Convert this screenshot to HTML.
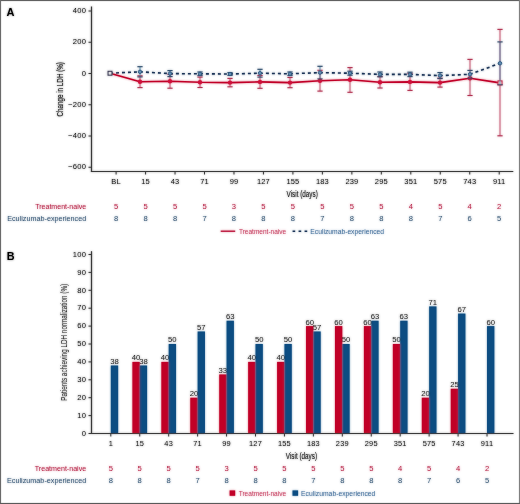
<!DOCTYPE html>
<html><head><meta charset="utf-8"><style>
html,body{margin:0;padding:0;background:#fff;}
body{width:520px;height:504px;overflow:hidden;}
svg{display:block;font-family:"Liberation Sans", sans-serif;}
#w{width:520px;height:504px;will-change:transform;}
</style></head><body>
<div id="w"><svg width="520" height="504" viewBox="0 0 520 504">
<defs><filter id="sf" x="0" y="0" width="520" height="504" filterUnits="userSpaceOnUse"><feGaussianBlur stdDeviation="0.8"/></filter></defs>
<rect x="0" y="0" width="520" height="504" fill="#fff"/>
<g>
<text x="6.60" y="15.80" font-size="11" text-anchor="start" fill="#000" font-weight="bold">A</text>
<line x1="91.50" y1="6.50" x2="91.50" y2="172.00" stroke="#3a3a3a" stroke-width="1.2"/>
<line x1="90.90" y1="171.50" x2="513.30" y2="171.50" stroke="#3a3a3a" stroke-width="1.2"/>
<line x1="88.50" y1="11.00" x2="91.50" y2="11.00" stroke="#3a3a3a" stroke-width="1"/>
<text x="86.20" y="13.20" font-size="7.6" text-anchor="end" fill="#1a1a1a" font-weight="normal" letter-spacing="0.25">400</text>
<line x1="88.50" y1="42.25" x2="91.50" y2="42.25" stroke="#3a3a3a" stroke-width="1"/>
<text x="86.20" y="44.45" font-size="7.6" text-anchor="end" fill="#1a1a1a" font-weight="normal" letter-spacing="0.25">200</text>
<line x1="88.50" y1="73.50" x2="91.50" y2="73.50" stroke="#3a3a3a" stroke-width="1"/>
<text x="86.20" y="75.70" font-size="7.6" text-anchor="end" fill="#1a1a1a" font-weight="normal" letter-spacing="0.25">0</text>
<line x1="88.50" y1="104.75" x2="91.50" y2="104.75" stroke="#3a3a3a" stroke-width="1"/>
<text x="86.20" y="106.95" font-size="7.6" text-anchor="end" fill="#1a1a1a" font-weight="normal" letter-spacing="0.25">−200</text>
<line x1="88.50" y1="136.00" x2="91.50" y2="136.00" stroke="#3a3a3a" stroke-width="1"/>
<text x="86.20" y="138.20" font-size="7.6" text-anchor="end" fill="#1a1a1a" font-weight="normal" letter-spacing="0.25">−400</text>
<line x1="88.50" y1="167.25" x2="91.50" y2="167.25" stroke="#3a3a3a" stroke-width="1"/>
<text x="86.20" y="169.45" font-size="7.6" text-anchor="end" fill="#1a1a1a" font-weight="normal" letter-spacing="0.25">−600</text>
<text transform="translate(62.8,89.3) rotate(-90)" font-size="9.4" text-anchor="middle" fill="#1a1a1a" stroke="#1a1a1a" stroke-width="0.12" textLength="54.5" lengthAdjust="spacingAndGlyphs">Change in LDH (%)</text>
<line x1="116.10" y1="171.50" x2="116.10" y2="174.50" stroke="#3a3a3a" stroke-width="1"/>
<text x="116.10" y="184.00" font-size="7.5" text-anchor="middle" fill="#1a1a1a" font-weight="normal" letter-spacing="0.15">BL</text>
<line x1="145.57" y1="171.50" x2="145.57" y2="174.50" stroke="#3a3a3a" stroke-width="1"/>
<text x="145.57" y="184.00" font-size="7.5" text-anchor="middle" fill="#1a1a1a" font-weight="normal" letter-spacing="0.15">15</text>
<line x1="175.04" y1="171.50" x2="175.04" y2="174.50" stroke="#3a3a3a" stroke-width="1"/>
<text x="175.04" y="184.00" font-size="7.5" text-anchor="middle" fill="#1a1a1a" font-weight="normal" letter-spacing="0.15">43</text>
<line x1="204.51" y1="171.50" x2="204.51" y2="174.50" stroke="#3a3a3a" stroke-width="1"/>
<text x="204.51" y="184.00" font-size="7.5" text-anchor="middle" fill="#1a1a1a" font-weight="normal" letter-spacing="0.15">71</text>
<line x1="233.98" y1="171.50" x2="233.98" y2="174.50" stroke="#3a3a3a" stroke-width="1"/>
<text x="233.98" y="184.00" font-size="7.5" text-anchor="middle" fill="#1a1a1a" font-weight="normal" letter-spacing="0.15">99</text>
<line x1="263.45" y1="171.50" x2="263.45" y2="174.50" stroke="#3a3a3a" stroke-width="1"/>
<text x="263.45" y="184.00" font-size="7.5" text-anchor="middle" fill="#1a1a1a" font-weight="normal" letter-spacing="0.15">127</text>
<line x1="292.92" y1="171.50" x2="292.92" y2="174.50" stroke="#3a3a3a" stroke-width="1"/>
<text x="292.92" y="184.00" font-size="7.5" text-anchor="middle" fill="#1a1a1a" font-weight="normal" letter-spacing="0.15">155</text>
<line x1="322.39" y1="171.50" x2="322.39" y2="174.50" stroke="#3a3a3a" stroke-width="1"/>
<text x="322.39" y="184.00" font-size="7.5" text-anchor="middle" fill="#1a1a1a" font-weight="normal" letter-spacing="0.15">183</text>
<line x1="351.86" y1="171.50" x2="351.86" y2="174.50" stroke="#3a3a3a" stroke-width="1"/>
<text x="351.86" y="184.00" font-size="7.5" text-anchor="middle" fill="#1a1a1a" font-weight="normal" letter-spacing="0.15">239</text>
<line x1="381.33" y1="171.50" x2="381.33" y2="174.50" stroke="#3a3a3a" stroke-width="1"/>
<text x="381.33" y="184.00" font-size="7.5" text-anchor="middle" fill="#1a1a1a" font-weight="normal" letter-spacing="0.15">295</text>
<line x1="410.80" y1="171.50" x2="410.80" y2="174.50" stroke="#3a3a3a" stroke-width="1"/>
<text x="410.80" y="184.00" font-size="7.5" text-anchor="middle" fill="#1a1a1a" font-weight="normal" letter-spacing="0.15">351</text>
<line x1="440.27" y1="171.50" x2="440.27" y2="174.50" stroke="#3a3a3a" stroke-width="1"/>
<text x="440.27" y="184.00" font-size="7.5" text-anchor="middle" fill="#1a1a1a" font-weight="normal" letter-spacing="0.15">575</text>
<line x1="469.74" y1="171.50" x2="469.74" y2="174.50" stroke="#3a3a3a" stroke-width="1"/>
<text x="469.74" y="184.00" font-size="7.5" text-anchor="middle" fill="#1a1a1a" font-weight="normal" letter-spacing="0.15">743</text>
<line x1="499.21" y1="171.50" x2="499.21" y2="174.50" stroke="#3a3a3a" stroke-width="1"/>
<text x="499.21" y="184.00" font-size="7.5" text-anchor="middle" fill="#1a1a1a" font-weight="normal" letter-spacing="0.15">911</text>
<text x="302.20" y="196.60" font-size="8.2" text-anchor="middle" fill="#1a1a1a" font-weight="normal" stroke="#1a1a1a" stroke-width="0.05" textLength="31.2" lengthAdjust="spacingAndGlyphs">Visit (days)</text>
<text x="86.20" y="208.70" font-size="7.8" text-anchor="end" fill="#b8284a" font-weight="normal" textLength="51.0" lengthAdjust="spacingAndGlyphs">Treatment-naive</text>
<text x="86.20" y="220.50" font-size="7.8" text-anchor="end" fill="#3a5a78" font-weight="normal" textLength="79.0" lengthAdjust="spacingAndGlyphs">Eculizumab-experienced</text>
<text x="116.10" y="208.70" font-size="7.6" text-anchor="middle" fill="#b8284a" font-weight="normal">5</text>
<text x="116.10" y="220.50" font-size="7.6" text-anchor="middle" fill="#3a5a78" font-weight="normal">8</text>
<text x="145.57" y="208.70" font-size="7.6" text-anchor="middle" fill="#b8284a" font-weight="normal">5</text>
<text x="145.57" y="220.50" font-size="7.6" text-anchor="middle" fill="#3a5a78" font-weight="normal">8</text>
<text x="175.04" y="208.70" font-size="7.6" text-anchor="middle" fill="#b8284a" font-weight="normal">5</text>
<text x="175.04" y="220.50" font-size="7.6" text-anchor="middle" fill="#3a5a78" font-weight="normal">8</text>
<text x="204.51" y="208.70" font-size="7.6" text-anchor="middle" fill="#b8284a" font-weight="normal">5</text>
<text x="204.51" y="220.50" font-size="7.6" text-anchor="middle" fill="#3a5a78" font-weight="normal">7</text>
<text x="233.98" y="208.70" font-size="7.6" text-anchor="middle" fill="#b8284a" font-weight="normal">3</text>
<text x="233.98" y="220.50" font-size="7.6" text-anchor="middle" fill="#3a5a78" font-weight="normal">8</text>
<text x="263.45" y="208.70" font-size="7.6" text-anchor="middle" fill="#b8284a" font-weight="normal">5</text>
<text x="263.45" y="220.50" font-size="7.6" text-anchor="middle" fill="#3a5a78" font-weight="normal">8</text>
<text x="292.92" y="208.70" font-size="7.6" text-anchor="middle" fill="#b8284a" font-weight="normal">5</text>
<text x="292.92" y="220.50" font-size="7.6" text-anchor="middle" fill="#3a5a78" font-weight="normal">8</text>
<text x="322.39" y="208.70" font-size="7.6" text-anchor="middle" fill="#b8284a" font-weight="normal">5</text>
<text x="322.39" y="220.50" font-size="7.6" text-anchor="middle" fill="#3a5a78" font-weight="normal">7</text>
<text x="351.86" y="208.70" font-size="7.6" text-anchor="middle" fill="#b8284a" font-weight="normal">5</text>
<text x="351.86" y="220.50" font-size="7.6" text-anchor="middle" fill="#3a5a78" font-weight="normal">8</text>
<text x="381.33" y="208.70" font-size="7.6" text-anchor="middle" fill="#b8284a" font-weight="normal">5</text>
<text x="381.33" y="220.50" font-size="7.6" text-anchor="middle" fill="#3a5a78" font-weight="normal">8</text>
<text x="410.80" y="208.70" font-size="7.6" text-anchor="middle" fill="#b8284a" font-weight="normal">4</text>
<text x="410.80" y="220.50" font-size="7.6" text-anchor="middle" fill="#3a5a78" font-weight="normal">8</text>
<text x="440.27" y="208.70" font-size="7.6" text-anchor="middle" fill="#b8284a" font-weight="normal">5</text>
<text x="440.27" y="220.50" font-size="7.6" text-anchor="middle" fill="#3a5a78" font-weight="normal">7</text>
<text x="469.74" y="208.70" font-size="7.6" text-anchor="middle" fill="#b8284a" font-weight="normal">4</text>
<text x="469.74" y="220.50" font-size="7.6" text-anchor="middle" fill="#3a5a78" font-weight="normal">6</text>
<text x="499.21" y="208.70" font-size="7.6" text-anchor="middle" fill="#b8284a" font-weight="normal">2</text>
<text x="499.21" y="220.50" font-size="7.6" text-anchor="middle" fill="#3a5a78" font-weight="normal">5</text>
<line x1="220.70" y1="231.20" x2="235.20" y2="231.20" stroke="#b80a30" stroke-width="1.3"/>
<text x="238.90" y="233.60" font-size="6.6" text-anchor="start" fill="#c84464" font-weight="normal" textLength="47.3" lengthAdjust="spacingAndGlyphs">Treatment-naive</text>
<line x1="292.60" y1="231.20" x2="307.40" y2="231.20" stroke="#1c3558" stroke-width="1.4" stroke-dasharray="2.6,3.4"/>
<text x="310.30" y="233.60" font-size="6.7" text-anchor="start" fill="#44709c" font-weight="normal" textLength="73.8" lengthAdjust="spacingAndGlyphs">Eculizumab-experienced</text>
<line x1="140.00" y1="75.80" x2="140.00" y2="87.60" stroke="#c45a74" stroke-width="1"/>
<line x1="137.40" y1="75.80" x2="142.60" y2="75.80" stroke="#b03050" stroke-width="1.1"/>
<line x1="137.40" y1="87.60" x2="142.60" y2="87.60" stroke="#b03050" stroke-width="1.1"/>
<line x1="170.00" y1="74.40" x2="170.00" y2="88.20" stroke="#c45a74" stroke-width="1"/>
<line x1="167.40" y1="74.40" x2="172.60" y2="74.40" stroke="#b03050" stroke-width="1.1"/>
<line x1="167.40" y1="88.20" x2="172.60" y2="88.20" stroke="#b03050" stroke-width="1.1"/>
<line x1="200.00" y1="77.10" x2="200.00" y2="87.50" stroke="#c45a74" stroke-width="1"/>
<line x1="197.40" y1="77.10" x2="202.60" y2="77.10" stroke="#b03050" stroke-width="1.1"/>
<line x1="197.40" y1="87.50" x2="202.60" y2="87.50" stroke="#b03050" stroke-width="1.1"/>
<line x1="230.00" y1="78.40" x2="230.00" y2="86.80" stroke="#c45a74" stroke-width="1"/>
<line x1="227.40" y1="78.40" x2="232.60" y2="78.40" stroke="#b03050" stroke-width="1.1"/>
<line x1="227.40" y1="86.80" x2="232.60" y2="86.80" stroke="#b03050" stroke-width="1.1"/>
<line x1="260.00" y1="75.50" x2="260.00" y2="88.30" stroke="#c45a74" stroke-width="1"/>
<line x1="257.40" y1="75.50" x2="262.60" y2="75.50" stroke="#b03050" stroke-width="1.1"/>
<line x1="257.40" y1="88.30" x2="262.60" y2="88.30" stroke="#b03050" stroke-width="1.1"/>
<line x1="290.00" y1="77.50" x2="290.00" y2="87.70" stroke="#c45a74" stroke-width="1"/>
<line x1="287.40" y1="77.50" x2="292.60" y2="77.50" stroke="#b03050" stroke-width="1.1"/>
<line x1="287.40" y1="87.70" x2="292.60" y2="87.70" stroke="#b03050" stroke-width="1.1"/>
<line x1="320.00" y1="70.30" x2="320.00" y2="91.10" stroke="#c45a74" stroke-width="1"/>
<line x1="317.40" y1="70.30" x2="322.60" y2="70.30" stroke="#b03050" stroke-width="1.1"/>
<line x1="317.40" y1="91.10" x2="322.60" y2="91.10" stroke="#b03050" stroke-width="1.1"/>
<line x1="350.00" y1="67.60" x2="350.00" y2="92.30" stroke="#c45a74" stroke-width="1"/>
<line x1="347.40" y1="67.60" x2="352.60" y2="67.60" stroke="#b03050" stroke-width="1.1"/>
<line x1="347.40" y1="92.30" x2="352.60" y2="92.30" stroke="#b03050" stroke-width="1.1"/>
<line x1="380.00" y1="76.60" x2="380.00" y2="88.00" stroke="#c45a74" stroke-width="1"/>
<line x1="377.40" y1="76.60" x2="382.60" y2="76.60" stroke="#b03050" stroke-width="1.1"/>
<line x1="377.40" y1="88.00" x2="382.60" y2="88.00" stroke="#b03050" stroke-width="1.1"/>
<line x1="410.00" y1="73.40" x2="410.00" y2="90.40" stroke="#c45a74" stroke-width="1"/>
<line x1="407.40" y1="73.40" x2="412.60" y2="73.40" stroke="#b03050" stroke-width="1.1"/>
<line x1="407.40" y1="90.40" x2="412.60" y2="90.40" stroke="#b03050" stroke-width="1.1"/>
<line x1="440.00" y1="78.10" x2="440.00" y2="87.10" stroke="#c45a74" stroke-width="1"/>
<line x1="437.40" y1="78.10" x2="442.60" y2="78.10" stroke="#b03050" stroke-width="1.1"/>
<line x1="437.40" y1="87.10" x2="442.60" y2="87.10" stroke="#b03050" stroke-width="1.1"/>
<line x1="470.00" y1="59.40" x2="470.00" y2="95.50" stroke="#c45a74" stroke-width="1"/>
<line x1="467.40" y1="59.40" x2="472.60" y2="59.40" stroke="#b03050" stroke-width="1.1"/>
<line x1="467.40" y1="95.50" x2="472.60" y2="95.50" stroke="#b03050" stroke-width="1.1"/>
<line x1="500.00" y1="29.40" x2="500.00" y2="135.80" stroke="#c45a74" stroke-width="1"/>
<line x1="497.40" y1="29.40" x2="502.60" y2="29.40" stroke="#b03050" stroke-width="1.1"/>
<line x1="497.40" y1="135.80" x2="502.60" y2="135.80" stroke="#b03050" stroke-width="1.1"/>
<polyline points="110.0,73.25 140.0,81.70 170.0,81.30 200.0,82.30 230.0,82.60 260.0,81.90 290.0,82.60 320.0,80.70 350.0,79.80 380.0,82.30 410.0,81.90 440.0,82.60 470.0,78.30 500.0,82.90" fill="none" stroke="#c10028" stroke-width="1.6" stroke-linejoin="round"/>
<circle cx="140" cy="81.7" r="2.2" fill="#d0103a"/>
<circle cx="170" cy="81.3" r="2.2" fill="#d0103a"/>
<circle cx="200" cy="82.3" r="2.2" fill="#d0103a"/>
<circle cx="230" cy="82.6" r="2.2" fill="#d0103a"/>
<circle cx="260" cy="81.9" r="2.2" fill="#d0103a"/>
<circle cx="290" cy="82.6" r="2.2" fill="#d0103a"/>
<circle cx="320" cy="80.7" r="2.2" fill="#d0103a"/>
<circle cx="350" cy="79.8" r="2.2" fill="#d0103a"/>
<circle cx="380" cy="82.3" r="2.2" fill="#d0103a"/>
<circle cx="410" cy="81.9" r="2.2" fill="#d0103a"/>
<circle cx="440" cy="82.6" r="2.2" fill="#d0103a"/>
<circle cx="470" cy="78.3" r="2.2" fill="#d0103a"/>
<rect x="498" y="80.9" width="4" height="4" fill="#fff" stroke="#c10028" stroke-width="1"/>
<line x1="140.00" y1="66.70" x2="140.00" y2="76.90" stroke="#5a8cab" stroke-width="0.9"/>
<line x1="137.40" y1="66.70" x2="142.60" y2="66.70" stroke="#2a4868" stroke-width="1.1"/>
<line x1="137.40" y1="76.90" x2="142.60" y2="76.90" stroke="#2a4868" stroke-width="1.1"/>
<line x1="170.00" y1="70.60" x2="170.00" y2="76.60" stroke="#5a8cab" stroke-width="0.9"/>
<line x1="167.40" y1="70.60" x2="172.60" y2="70.60" stroke="#2a4868" stroke-width="1.1"/>
<line x1="167.40" y1="76.60" x2="172.60" y2="76.60" stroke="#2a4868" stroke-width="1.1"/>
<line x1="200.00" y1="72.00" x2="200.00" y2="75.60" stroke="#5a8cab" stroke-width="0.9"/>
<line x1="197.40" y1="72.00" x2="202.60" y2="72.00" stroke="#2a4868" stroke-width="1.1"/>
<line x1="197.40" y1="75.60" x2="202.60" y2="75.60" stroke="#2a4868" stroke-width="1.1"/>
<line x1="230.00" y1="72.60" x2="230.00" y2="75.40" stroke="#5a8cab" stroke-width="0.9"/>
<line x1="227.40" y1="72.60" x2="232.60" y2="72.60" stroke="#2a4868" stroke-width="1.1"/>
<line x1="227.40" y1="75.40" x2="232.60" y2="75.40" stroke="#2a4868" stroke-width="1.1"/>
<line x1="260.00" y1="69.30" x2="260.00" y2="77.10" stroke="#5a8cab" stroke-width="0.9"/>
<line x1="257.40" y1="69.30" x2="262.60" y2="69.30" stroke="#2a4868" stroke-width="1.1"/>
<line x1="257.40" y1="77.10" x2="262.60" y2="77.10" stroke="#2a4868" stroke-width="1.1"/>
<line x1="290.00" y1="72.00" x2="290.00" y2="75.60" stroke="#5a8cab" stroke-width="0.9"/>
<line x1="287.40" y1="72.00" x2="292.60" y2="72.00" stroke="#2a4868" stroke-width="1.1"/>
<line x1="287.40" y1="75.60" x2="292.60" y2="75.60" stroke="#2a4868" stroke-width="1.1"/>
<line x1="320.00" y1="66.30" x2="320.00" y2="78.90" stroke="#5a8cab" stroke-width="0.9"/>
<line x1="317.40" y1="66.30" x2="322.60" y2="66.30" stroke="#2a4868" stroke-width="1.1"/>
<line x1="317.40" y1="78.90" x2="322.60" y2="78.90" stroke="#2a4868" stroke-width="1.1"/>
<line x1="350.00" y1="71.20" x2="350.00" y2="75.20" stroke="#5a8cab" stroke-width="0.9"/>
<line x1="347.40" y1="71.20" x2="352.60" y2="71.20" stroke="#2a4868" stroke-width="1.1"/>
<line x1="347.40" y1="75.20" x2="352.60" y2="75.20" stroke="#2a4868" stroke-width="1.1"/>
<line x1="380.00" y1="72.00" x2="380.00" y2="76.80" stroke="#5a8cab" stroke-width="0.9"/>
<line x1="377.40" y1="72.00" x2="382.60" y2="72.00" stroke="#2a4868" stroke-width="1.1"/>
<line x1="377.40" y1="76.80" x2="382.60" y2="76.80" stroke="#2a4868" stroke-width="1.1"/>
<line x1="410.00" y1="72.20" x2="410.00" y2="76.60" stroke="#5a8cab" stroke-width="0.9"/>
<line x1="407.40" y1="72.20" x2="412.60" y2="72.20" stroke="#2a4868" stroke-width="1.1"/>
<line x1="407.40" y1="76.60" x2="412.60" y2="76.60" stroke="#2a4868" stroke-width="1.1"/>
<line x1="440.00" y1="72.60" x2="440.00" y2="78.60" stroke="#5a8cab" stroke-width="0.9"/>
<line x1="437.40" y1="72.60" x2="442.60" y2="72.60" stroke="#2a4868" stroke-width="1.1"/>
<line x1="437.40" y1="78.60" x2="442.60" y2="78.60" stroke="#2a4868" stroke-width="1.1"/>
<line x1="470.00" y1="70.40" x2="470.00" y2="78.20" stroke="#5a8cab" stroke-width="0.9"/>
<line x1="467.40" y1="70.40" x2="472.60" y2="70.40" stroke="#2a4868" stroke-width="1.1"/>
<line x1="467.40" y1="78.20" x2="472.60" y2="78.20" stroke="#2a4868" stroke-width="1.1"/>
<line x1="500.00" y1="41.90" x2="500.00" y2="84.70" stroke="#5a8cab" stroke-width="0.9"/>
<line x1="497.40" y1="41.90" x2="502.60" y2="41.90" stroke="#2a4868" stroke-width="1.1"/>
<line x1="497.40" y1="84.70" x2="502.60" y2="84.70" stroke="#2a4868" stroke-width="1.1"/>
<polyline points="110.0,73.25 140.0,71.80 170.0,73.60 200.0,73.80 230.0,74.00 260.0,73.20 290.0,73.80 320.0,72.60 350.0,73.20 380.0,74.40 410.0,74.40 440.0,75.60 470.0,74.30 500.0,63.30" fill="none" stroke="#1c3558" stroke-width="1.6" stroke-dasharray="3,3"/>
<circle cx="140" cy="71.8" r="1.7" fill="#6f9fc4" stroke="#1f4a72" stroke-width="0.9"/>
<circle cx="170" cy="73.6" r="1.7" fill="#6f9fc4" stroke="#1f4a72" stroke-width="0.9"/>
<circle cx="200" cy="73.8" r="1.7" fill="#6f9fc4" stroke="#1f4a72" stroke-width="0.9"/>
<circle cx="230" cy="74.0" r="1.7" fill="#6f9fc4" stroke="#1f4a72" stroke-width="0.9"/>
<circle cx="260" cy="73.2" r="1.7" fill="#6f9fc4" stroke="#1f4a72" stroke-width="0.9"/>
<circle cx="290" cy="73.8" r="1.7" fill="#6f9fc4" stroke="#1f4a72" stroke-width="0.9"/>
<circle cx="320" cy="72.6" r="1.7" fill="#6f9fc4" stroke="#1f4a72" stroke-width="0.9"/>
<circle cx="350" cy="73.2" r="1.7" fill="#6f9fc4" stroke="#1f4a72" stroke-width="0.9"/>
<circle cx="380" cy="74.4" r="1.7" fill="#6f9fc4" stroke="#1f4a72" stroke-width="0.9"/>
<circle cx="410" cy="74.4" r="1.7" fill="#6f9fc4" stroke="#1f4a72" stroke-width="0.9"/>
<circle cx="440" cy="75.6" r="1.7" fill="#6f9fc4" stroke="#1f4a72" stroke-width="0.9"/>
<circle cx="470" cy="74.3" r="1.7" fill="#6f9fc4" stroke="#1f4a72" stroke-width="0.9"/>
<circle cx="500" cy="63.3" r="1.7" fill="#6f9fc4" stroke="#1f4a72" stroke-width="0.9"/>
<rect x="108.1" y="71.35" width="3.8" height="3.8" fill="#fff" stroke="#2a2a48" stroke-width="1.1"/>
<text x="6.80" y="259.80" font-size="10.8" text-anchor="start" fill="#000" font-weight="bold">B</text>
<line x1="91.50" y1="251.20" x2="91.50" y2="434.00" stroke="#3a3a3a" stroke-width="1.2"/>
<line x1="90.90" y1="433.50" x2="513.30" y2="433.50" stroke="#3a3a3a" stroke-width="1.2"/>
<line x1="88.50" y1="433.50" x2="91.50" y2="433.50" stroke="#3a3a3a" stroke-width="1"/>
<text x="86.20" y="435.70" font-size="7.6" text-anchor="end" fill="#1a1a1a" font-weight="normal" letter-spacing="0.25">0</text>
<line x1="88.50" y1="415.60" x2="91.50" y2="415.60" stroke="#3a3a3a" stroke-width="1"/>
<text x="86.20" y="417.80" font-size="7.6" text-anchor="end" fill="#1a1a1a" font-weight="normal" letter-spacing="0.25">10</text>
<line x1="88.50" y1="397.70" x2="91.50" y2="397.70" stroke="#3a3a3a" stroke-width="1"/>
<text x="86.20" y="399.90" font-size="7.6" text-anchor="end" fill="#1a1a1a" font-weight="normal" letter-spacing="0.25">20</text>
<line x1="88.50" y1="379.80" x2="91.50" y2="379.80" stroke="#3a3a3a" stroke-width="1"/>
<text x="86.20" y="382.00" font-size="7.6" text-anchor="end" fill="#1a1a1a" font-weight="normal" letter-spacing="0.25">30</text>
<line x1="88.50" y1="361.90" x2="91.50" y2="361.90" stroke="#3a3a3a" stroke-width="1"/>
<text x="86.20" y="364.10" font-size="7.6" text-anchor="end" fill="#1a1a1a" font-weight="normal" letter-spacing="0.25">40</text>
<line x1="88.50" y1="344.00" x2="91.50" y2="344.00" stroke="#3a3a3a" stroke-width="1"/>
<text x="86.20" y="346.20" font-size="7.6" text-anchor="end" fill="#1a1a1a" font-weight="normal" letter-spacing="0.25">50</text>
<line x1="88.50" y1="326.10" x2="91.50" y2="326.10" stroke="#3a3a3a" stroke-width="1"/>
<text x="86.20" y="328.30" font-size="7.6" text-anchor="end" fill="#1a1a1a" font-weight="normal" letter-spacing="0.25">60</text>
<line x1="88.50" y1="308.20" x2="91.50" y2="308.20" stroke="#3a3a3a" stroke-width="1"/>
<text x="86.20" y="310.40" font-size="7.6" text-anchor="end" fill="#1a1a1a" font-weight="normal" letter-spacing="0.25">70</text>
<line x1="88.50" y1="290.30" x2="91.50" y2="290.30" stroke="#3a3a3a" stroke-width="1"/>
<text x="86.20" y="292.50" font-size="7.6" text-anchor="end" fill="#1a1a1a" font-weight="normal" letter-spacing="0.25">80</text>
<line x1="88.50" y1="272.40" x2="91.50" y2="272.40" stroke="#3a3a3a" stroke-width="1"/>
<text x="86.20" y="274.60" font-size="7.6" text-anchor="end" fill="#1a1a1a" font-weight="normal" letter-spacing="0.25">90</text>
<line x1="88.50" y1="254.50" x2="91.50" y2="254.50" stroke="#3a3a3a" stroke-width="1"/>
<text x="86.20" y="256.70" font-size="7.6" text-anchor="end" fill="#1a1a1a" font-weight="normal" letter-spacing="0.25">100</text>
<text transform="translate(66.9,342.3) rotate(-90)" font-size="9.4" text-anchor="middle" fill="#2a2a2a" textLength="117" lengthAdjust="spacingAndGlyphs">Patients achieving LDH normalization (%)</text>
<rect x="110.80" y="365.48" width="7.35" height="68.02" fill="#0b4d82"/>
<rect x="132.39" y="361.90" width="7.35" height="71.60" fill="#c10028"/>
<rect x="139.74" y="365.48" width="7.35" height="68.02" fill="#0b4d82"/>
<rect x="161.33" y="361.90" width="7.35" height="71.60" fill="#c10028"/>
<rect x="168.68" y="344.00" width="7.35" height="89.50" fill="#0b4d82"/>
<rect x="190.27" y="397.70" width="7.35" height="35.80" fill="#c10028"/>
<rect x="197.62" y="331.47" width="7.35" height="102.03" fill="#0b4d82"/>
<rect x="219.21" y="374.43" width="7.35" height="59.07" fill="#c10028"/>
<rect x="226.56" y="320.73" width="7.35" height="112.77" fill="#0b4d82"/>
<rect x="248.15" y="361.90" width="7.35" height="71.60" fill="#c10028"/>
<rect x="255.50" y="344.00" width="7.35" height="89.50" fill="#0b4d82"/>
<rect x="277.09" y="361.90" width="7.35" height="71.60" fill="#c10028"/>
<rect x="284.44" y="344.00" width="7.35" height="89.50" fill="#0b4d82"/>
<rect x="306.03" y="326.10" width="7.35" height="107.40" fill="#c10028"/>
<rect x="313.38" y="331.47" width="7.35" height="102.03" fill="#0b4d82"/>
<rect x="334.97" y="326.10" width="7.35" height="107.40" fill="#c10028"/>
<rect x="342.32" y="344.00" width="7.35" height="89.50" fill="#0b4d82"/>
<rect x="363.91" y="326.10" width="7.35" height="107.40" fill="#c10028"/>
<rect x="371.26" y="320.73" width="7.35" height="112.77" fill="#0b4d82"/>
<rect x="392.85" y="344.00" width="7.35" height="89.50" fill="#c10028"/>
<rect x="400.20" y="320.73" width="7.35" height="112.77" fill="#0b4d82"/>
<rect x="421.79" y="397.70" width="7.35" height="35.80" fill="#c10028"/>
<rect x="429.14" y="306.41" width="7.35" height="127.09" fill="#0b4d82"/>
<rect x="450.73" y="388.75" width="7.35" height="44.75" fill="#c10028"/>
<rect x="458.08" y="313.57" width="7.35" height="119.93" fill="#0b4d82"/>
<rect x="487.02" y="326.10" width="7.35" height="107.40" fill="#0b4d82"/>
<text x="114.47" y="363.88" font-size="7.7" text-anchor="middle" fill="#2a2a2a" font-weight="normal">38</text>
<text x="136.06" y="360.30" font-size="7.7" text-anchor="middle" fill="#2a2a2a" font-weight="normal">40</text>
<text x="143.42" y="363.88" font-size="7.7" text-anchor="middle" fill="#2a2a2a" font-weight="normal">38</text>
<text x="165.00" y="360.30" font-size="7.7" text-anchor="middle" fill="#2a2a2a" font-weight="normal">40</text>
<text x="172.36" y="342.40" font-size="7.7" text-anchor="middle" fill="#2a2a2a" font-weight="normal">50</text>
<text x="193.94" y="396.10" font-size="7.7" text-anchor="middle" fill="#2a2a2a" font-weight="normal">20</text>
<text x="201.30" y="329.87" font-size="7.7" text-anchor="middle" fill="#2a2a2a" font-weight="normal">57</text>
<text x="222.88" y="372.83" font-size="7.7" text-anchor="middle" fill="#2a2a2a" font-weight="normal">33</text>
<text x="230.24" y="319.13" font-size="7.7" text-anchor="middle" fill="#2a2a2a" font-weight="normal">63</text>
<text x="251.82" y="360.30" font-size="7.7" text-anchor="middle" fill="#2a2a2a" font-weight="normal">40</text>
<text x="259.18" y="342.40" font-size="7.7" text-anchor="middle" fill="#2a2a2a" font-weight="normal">50</text>
<text x="280.76" y="360.30" font-size="7.7" text-anchor="middle" fill="#2a2a2a" font-weight="normal">40</text>
<text x="288.12" y="342.40" font-size="7.7" text-anchor="middle" fill="#2a2a2a" font-weight="normal">50</text>
<text x="309.70" y="324.50" font-size="7.7" text-anchor="middle" fill="#2a2a2a" font-weight="normal">60</text>
<text x="317.06" y="329.87" font-size="7.7" text-anchor="middle" fill="#2a2a2a" font-weight="normal">57</text>
<text x="338.64" y="324.50" font-size="7.7" text-anchor="middle" fill="#2a2a2a" font-weight="normal">60</text>
<text x="346.00" y="342.40" font-size="7.7" text-anchor="middle" fill="#2a2a2a" font-weight="normal">50</text>
<text x="367.59" y="324.50" font-size="7.7" text-anchor="middle" fill="#2a2a2a" font-weight="normal">60</text>
<text x="374.94" y="319.13" font-size="7.7" text-anchor="middle" fill="#2a2a2a" font-weight="normal">63</text>
<text x="396.53" y="342.40" font-size="7.7" text-anchor="middle" fill="#2a2a2a" font-weight="normal">50</text>
<text x="403.88" y="319.13" font-size="7.7" text-anchor="middle" fill="#2a2a2a" font-weight="normal">63</text>
<text x="425.47" y="396.10" font-size="7.7" text-anchor="middle" fill="#2a2a2a" font-weight="normal">20</text>
<text x="432.82" y="304.81" font-size="7.7" text-anchor="middle" fill="#2a2a2a" font-weight="normal">71</text>
<text x="454.41" y="387.15" font-size="7.7" text-anchor="middle" fill="#2a2a2a" font-weight="normal">25</text>
<text x="461.76" y="311.97" font-size="7.7" text-anchor="middle" fill="#2a2a2a" font-weight="normal">67</text>
<text x="490.70" y="324.50" font-size="7.7" text-anchor="middle" fill="#2a2a2a" font-weight="normal">60</text>
<line x1="90.90" y1="433.50" x2="513.30" y2="433.50" stroke="#3a3a3a" stroke-width="1.2"/>
<line x1="110.80" y1="433.50" x2="110.80" y2="436.50" stroke="#3a3a3a" stroke-width="1"/>
<text x="110.80" y="446.00" font-size="7.4" text-anchor="middle" fill="#1a1a1a" font-weight="normal" letter-spacing="0.2">1</text>
<line x1="139.74" y1="433.50" x2="139.74" y2="436.50" stroke="#3a3a3a" stroke-width="1"/>
<text x="139.74" y="446.00" font-size="7.4" text-anchor="middle" fill="#1a1a1a" font-weight="normal" letter-spacing="0.2">15</text>
<line x1="168.68" y1="433.50" x2="168.68" y2="436.50" stroke="#3a3a3a" stroke-width="1"/>
<text x="168.68" y="446.00" font-size="7.4" text-anchor="middle" fill="#1a1a1a" font-weight="normal" letter-spacing="0.2">43</text>
<line x1="197.62" y1="433.50" x2="197.62" y2="436.50" stroke="#3a3a3a" stroke-width="1"/>
<text x="197.62" y="446.00" font-size="7.4" text-anchor="middle" fill="#1a1a1a" font-weight="normal" letter-spacing="0.2">71</text>
<line x1="226.56" y1="433.50" x2="226.56" y2="436.50" stroke="#3a3a3a" stroke-width="1"/>
<text x="226.56" y="446.00" font-size="7.4" text-anchor="middle" fill="#1a1a1a" font-weight="normal" letter-spacing="0.2">99</text>
<line x1="255.50" y1="433.50" x2="255.50" y2="436.50" stroke="#3a3a3a" stroke-width="1"/>
<text x="255.50" y="446.00" font-size="7.4" text-anchor="middle" fill="#1a1a1a" font-weight="normal" letter-spacing="0.2">127</text>
<line x1="284.44" y1="433.50" x2="284.44" y2="436.50" stroke="#3a3a3a" stroke-width="1"/>
<text x="284.44" y="446.00" font-size="7.4" text-anchor="middle" fill="#1a1a1a" font-weight="normal" letter-spacing="0.2">155</text>
<line x1="313.38" y1="433.50" x2="313.38" y2="436.50" stroke="#3a3a3a" stroke-width="1"/>
<text x="313.38" y="446.00" font-size="7.4" text-anchor="middle" fill="#1a1a1a" font-weight="normal" letter-spacing="0.2">183</text>
<line x1="342.32" y1="433.50" x2="342.32" y2="436.50" stroke="#3a3a3a" stroke-width="1"/>
<text x="342.32" y="446.00" font-size="7.4" text-anchor="middle" fill="#1a1a1a" font-weight="normal" letter-spacing="0.2">239</text>
<line x1="371.26" y1="433.50" x2="371.26" y2="436.50" stroke="#3a3a3a" stroke-width="1"/>
<text x="371.26" y="446.00" font-size="7.4" text-anchor="middle" fill="#1a1a1a" font-weight="normal" letter-spacing="0.2">295</text>
<line x1="400.20" y1="433.50" x2="400.20" y2="436.50" stroke="#3a3a3a" stroke-width="1"/>
<text x="400.20" y="446.00" font-size="7.4" text-anchor="middle" fill="#1a1a1a" font-weight="normal" letter-spacing="0.2">351</text>
<line x1="429.14" y1="433.50" x2="429.14" y2="436.50" stroke="#3a3a3a" stroke-width="1"/>
<text x="429.14" y="446.00" font-size="7.4" text-anchor="middle" fill="#1a1a1a" font-weight="normal" letter-spacing="0.2">575</text>
<line x1="458.08" y1="433.50" x2="458.08" y2="436.50" stroke="#3a3a3a" stroke-width="1"/>
<text x="458.08" y="446.00" font-size="7.4" text-anchor="middle" fill="#1a1a1a" font-weight="normal" letter-spacing="0.2">743</text>
<line x1="487.02" y1="433.50" x2="487.02" y2="436.50" stroke="#3a3a3a" stroke-width="1"/>
<text x="487.02" y="446.00" font-size="7.4" text-anchor="middle" fill="#1a1a1a" font-weight="normal" letter-spacing="0.2">911</text>
<text x="301.40" y="458.50" font-size="8.2" text-anchor="middle" fill="#1a1a1a" font-weight="normal" stroke="#1a1a1a" stroke-width="0.05" textLength="31.2" lengthAdjust="spacingAndGlyphs">Visit (days)</text>
<text x="86.20" y="471.30" font-size="7.8" text-anchor="end" fill="#b8284a" font-weight="normal" textLength="51.4" lengthAdjust="spacingAndGlyphs">Treatment-naive</text>
<text x="86.20" y="482.50" font-size="7.8" text-anchor="end" fill="#3a5a78" font-weight="normal" textLength="79.2" lengthAdjust="spacingAndGlyphs">Eculizumab-experienced</text>
<text x="110.80" y="471.30" font-size="7.6" text-anchor="middle" fill="#b8284a" font-weight="normal">5</text>
<text x="110.80" y="482.50" font-size="7.6" text-anchor="middle" fill="#3a5a78" font-weight="normal">8</text>
<text x="139.74" y="471.30" font-size="7.6" text-anchor="middle" fill="#b8284a" font-weight="normal">5</text>
<text x="139.74" y="482.50" font-size="7.6" text-anchor="middle" fill="#3a5a78" font-weight="normal">8</text>
<text x="168.68" y="471.30" font-size="7.6" text-anchor="middle" fill="#b8284a" font-weight="normal">5</text>
<text x="168.68" y="482.50" font-size="7.6" text-anchor="middle" fill="#3a5a78" font-weight="normal">8</text>
<text x="197.62" y="471.30" font-size="7.6" text-anchor="middle" fill="#b8284a" font-weight="normal">5</text>
<text x="197.62" y="482.50" font-size="7.6" text-anchor="middle" fill="#3a5a78" font-weight="normal">7</text>
<text x="226.56" y="471.30" font-size="7.6" text-anchor="middle" fill="#b8284a" font-weight="normal">3</text>
<text x="226.56" y="482.50" font-size="7.6" text-anchor="middle" fill="#3a5a78" font-weight="normal">8</text>
<text x="255.50" y="471.30" font-size="7.6" text-anchor="middle" fill="#b8284a" font-weight="normal">5</text>
<text x="255.50" y="482.50" font-size="7.6" text-anchor="middle" fill="#3a5a78" font-weight="normal">8</text>
<text x="284.44" y="471.30" font-size="7.6" text-anchor="middle" fill="#b8284a" font-weight="normal">5</text>
<text x="284.44" y="482.50" font-size="7.6" text-anchor="middle" fill="#3a5a78" font-weight="normal">8</text>
<text x="313.38" y="471.30" font-size="7.6" text-anchor="middle" fill="#b8284a" font-weight="normal">5</text>
<text x="313.38" y="482.50" font-size="7.6" text-anchor="middle" fill="#3a5a78" font-weight="normal">7</text>
<text x="342.32" y="471.30" font-size="7.6" text-anchor="middle" fill="#b8284a" font-weight="normal">5</text>
<text x="342.32" y="482.50" font-size="7.6" text-anchor="middle" fill="#3a5a78" font-weight="normal">8</text>
<text x="371.26" y="471.30" font-size="7.6" text-anchor="middle" fill="#b8284a" font-weight="normal">5</text>
<text x="371.26" y="482.50" font-size="7.6" text-anchor="middle" fill="#3a5a78" font-weight="normal">8</text>
<text x="400.20" y="471.30" font-size="7.6" text-anchor="middle" fill="#b8284a" font-weight="normal">4</text>
<text x="400.20" y="482.50" font-size="7.6" text-anchor="middle" fill="#3a5a78" font-weight="normal">8</text>
<text x="429.14" y="471.30" font-size="7.6" text-anchor="middle" fill="#b8284a" font-weight="normal">5</text>
<text x="429.14" y="482.50" font-size="7.6" text-anchor="middle" fill="#3a5a78" font-weight="normal">7</text>
<text x="458.08" y="471.30" font-size="7.6" text-anchor="middle" fill="#b8284a" font-weight="normal">4</text>
<text x="458.08" y="482.50" font-size="7.6" text-anchor="middle" fill="#3a5a78" font-weight="normal">6</text>
<text x="487.02" y="471.30" font-size="7.6" text-anchor="middle" fill="#b8284a" font-weight="normal">2</text>
<text x="487.02" y="482.50" font-size="7.6" text-anchor="middle" fill="#3a5a78" font-weight="normal">5</text>
<rect x="229.6" y="490.4" width="5.6" height="5.4" fill="#c10028"/>
<text x="238.70" y="495.60" font-size="6.6" text-anchor="start" fill="#c84464" font-weight="normal" textLength="47.4" lengthAdjust="spacingAndGlyphs">Treatment-naive</text>
<rect x="292.5" y="490.4" width="5.6" height="5.4" fill="#0b4d82"/>
<text x="301.10" y="495.60" font-size="6.7" text-anchor="start" fill="#44709c" font-weight="normal" textLength="74.3" lengthAdjust="spacingAndGlyphs">Eculizumab-experienced</text>
</g>
<g filter="url(#sf)" opacity="0.5">
<text x="6.60" y="15.80" font-size="11" text-anchor="start" fill="#000" font-weight="bold">A</text>
<line x1="91.50" y1="6.50" x2="91.50" y2="172.00" stroke="#3a3a3a" stroke-width="1.2"/>
<line x1="90.90" y1="171.50" x2="513.30" y2="171.50" stroke="#3a3a3a" stroke-width="1.2"/>
<line x1="88.50" y1="11.00" x2="91.50" y2="11.00" stroke="#3a3a3a" stroke-width="1"/>
<text x="86.20" y="13.20" font-size="7.6" text-anchor="end" fill="#1a1a1a" font-weight="normal" letter-spacing="0.25">400</text>
<line x1="88.50" y1="42.25" x2="91.50" y2="42.25" stroke="#3a3a3a" stroke-width="1"/>
<text x="86.20" y="44.45" font-size="7.6" text-anchor="end" fill="#1a1a1a" font-weight="normal" letter-spacing="0.25">200</text>
<line x1="88.50" y1="73.50" x2="91.50" y2="73.50" stroke="#3a3a3a" stroke-width="1"/>
<text x="86.20" y="75.70" font-size="7.6" text-anchor="end" fill="#1a1a1a" font-weight="normal" letter-spacing="0.25">0</text>
<line x1="88.50" y1="104.75" x2="91.50" y2="104.75" stroke="#3a3a3a" stroke-width="1"/>
<text x="86.20" y="106.95" font-size="7.6" text-anchor="end" fill="#1a1a1a" font-weight="normal" letter-spacing="0.25">−200</text>
<line x1="88.50" y1="136.00" x2="91.50" y2="136.00" stroke="#3a3a3a" stroke-width="1"/>
<text x="86.20" y="138.20" font-size="7.6" text-anchor="end" fill="#1a1a1a" font-weight="normal" letter-spacing="0.25">−400</text>
<line x1="88.50" y1="167.25" x2="91.50" y2="167.25" stroke="#3a3a3a" stroke-width="1"/>
<text x="86.20" y="169.45" font-size="7.6" text-anchor="end" fill="#1a1a1a" font-weight="normal" letter-spacing="0.25">−600</text>
<text transform="translate(62.8,89.3) rotate(-90)" font-size="9.4" text-anchor="middle" fill="#1a1a1a" stroke="#1a1a1a" stroke-width="0.12" textLength="54.5" lengthAdjust="spacingAndGlyphs">Change in LDH (%)</text>
<line x1="116.10" y1="171.50" x2="116.10" y2="174.50" stroke="#3a3a3a" stroke-width="1"/>
<text x="116.10" y="184.00" font-size="7.5" text-anchor="middle" fill="#1a1a1a" font-weight="normal" letter-spacing="0.15">BL</text>
<line x1="145.57" y1="171.50" x2="145.57" y2="174.50" stroke="#3a3a3a" stroke-width="1"/>
<text x="145.57" y="184.00" font-size="7.5" text-anchor="middle" fill="#1a1a1a" font-weight="normal" letter-spacing="0.15">15</text>
<line x1="175.04" y1="171.50" x2="175.04" y2="174.50" stroke="#3a3a3a" stroke-width="1"/>
<text x="175.04" y="184.00" font-size="7.5" text-anchor="middle" fill="#1a1a1a" font-weight="normal" letter-spacing="0.15">43</text>
<line x1="204.51" y1="171.50" x2="204.51" y2="174.50" stroke="#3a3a3a" stroke-width="1"/>
<text x="204.51" y="184.00" font-size="7.5" text-anchor="middle" fill="#1a1a1a" font-weight="normal" letter-spacing="0.15">71</text>
<line x1="233.98" y1="171.50" x2="233.98" y2="174.50" stroke="#3a3a3a" stroke-width="1"/>
<text x="233.98" y="184.00" font-size="7.5" text-anchor="middle" fill="#1a1a1a" font-weight="normal" letter-spacing="0.15">99</text>
<line x1="263.45" y1="171.50" x2="263.45" y2="174.50" stroke="#3a3a3a" stroke-width="1"/>
<text x="263.45" y="184.00" font-size="7.5" text-anchor="middle" fill="#1a1a1a" font-weight="normal" letter-spacing="0.15">127</text>
<line x1="292.92" y1="171.50" x2="292.92" y2="174.50" stroke="#3a3a3a" stroke-width="1"/>
<text x="292.92" y="184.00" font-size="7.5" text-anchor="middle" fill="#1a1a1a" font-weight="normal" letter-spacing="0.15">155</text>
<line x1="322.39" y1="171.50" x2="322.39" y2="174.50" stroke="#3a3a3a" stroke-width="1"/>
<text x="322.39" y="184.00" font-size="7.5" text-anchor="middle" fill="#1a1a1a" font-weight="normal" letter-spacing="0.15">183</text>
<line x1="351.86" y1="171.50" x2="351.86" y2="174.50" stroke="#3a3a3a" stroke-width="1"/>
<text x="351.86" y="184.00" font-size="7.5" text-anchor="middle" fill="#1a1a1a" font-weight="normal" letter-spacing="0.15">239</text>
<line x1="381.33" y1="171.50" x2="381.33" y2="174.50" stroke="#3a3a3a" stroke-width="1"/>
<text x="381.33" y="184.00" font-size="7.5" text-anchor="middle" fill="#1a1a1a" font-weight="normal" letter-spacing="0.15">295</text>
<line x1="410.80" y1="171.50" x2="410.80" y2="174.50" stroke="#3a3a3a" stroke-width="1"/>
<text x="410.80" y="184.00" font-size="7.5" text-anchor="middle" fill="#1a1a1a" font-weight="normal" letter-spacing="0.15">351</text>
<line x1="440.27" y1="171.50" x2="440.27" y2="174.50" stroke="#3a3a3a" stroke-width="1"/>
<text x="440.27" y="184.00" font-size="7.5" text-anchor="middle" fill="#1a1a1a" font-weight="normal" letter-spacing="0.15">575</text>
<line x1="469.74" y1="171.50" x2="469.74" y2="174.50" stroke="#3a3a3a" stroke-width="1"/>
<text x="469.74" y="184.00" font-size="7.5" text-anchor="middle" fill="#1a1a1a" font-weight="normal" letter-spacing="0.15">743</text>
<line x1="499.21" y1="171.50" x2="499.21" y2="174.50" stroke="#3a3a3a" stroke-width="1"/>
<text x="499.21" y="184.00" font-size="7.5" text-anchor="middle" fill="#1a1a1a" font-weight="normal" letter-spacing="0.15">911</text>
<text x="302.20" y="196.60" font-size="8.2" text-anchor="middle" fill="#1a1a1a" font-weight="normal" stroke="#1a1a1a" stroke-width="0.05" textLength="31.2" lengthAdjust="spacingAndGlyphs">Visit (days)</text>
<text x="86.20" y="208.70" font-size="7.8" text-anchor="end" fill="#b8284a" font-weight="normal" textLength="51.0" lengthAdjust="spacingAndGlyphs">Treatment-naive</text>
<text x="86.20" y="220.50" font-size="7.8" text-anchor="end" fill="#3a5a78" font-weight="normal" textLength="79.0" lengthAdjust="spacingAndGlyphs">Eculizumab-experienced</text>
<text x="116.10" y="208.70" font-size="7.6" text-anchor="middle" fill="#b8284a" font-weight="normal">5</text>
<text x="116.10" y="220.50" font-size="7.6" text-anchor="middle" fill="#3a5a78" font-weight="normal">8</text>
<text x="145.57" y="208.70" font-size="7.6" text-anchor="middle" fill="#b8284a" font-weight="normal">5</text>
<text x="145.57" y="220.50" font-size="7.6" text-anchor="middle" fill="#3a5a78" font-weight="normal">8</text>
<text x="175.04" y="208.70" font-size="7.6" text-anchor="middle" fill="#b8284a" font-weight="normal">5</text>
<text x="175.04" y="220.50" font-size="7.6" text-anchor="middle" fill="#3a5a78" font-weight="normal">8</text>
<text x="204.51" y="208.70" font-size="7.6" text-anchor="middle" fill="#b8284a" font-weight="normal">5</text>
<text x="204.51" y="220.50" font-size="7.6" text-anchor="middle" fill="#3a5a78" font-weight="normal">7</text>
<text x="233.98" y="208.70" font-size="7.6" text-anchor="middle" fill="#b8284a" font-weight="normal">3</text>
<text x="233.98" y="220.50" font-size="7.6" text-anchor="middle" fill="#3a5a78" font-weight="normal">8</text>
<text x="263.45" y="208.70" font-size="7.6" text-anchor="middle" fill="#b8284a" font-weight="normal">5</text>
<text x="263.45" y="220.50" font-size="7.6" text-anchor="middle" fill="#3a5a78" font-weight="normal">8</text>
<text x="292.92" y="208.70" font-size="7.6" text-anchor="middle" fill="#b8284a" font-weight="normal">5</text>
<text x="292.92" y="220.50" font-size="7.6" text-anchor="middle" fill="#3a5a78" font-weight="normal">8</text>
<text x="322.39" y="208.70" font-size="7.6" text-anchor="middle" fill="#b8284a" font-weight="normal">5</text>
<text x="322.39" y="220.50" font-size="7.6" text-anchor="middle" fill="#3a5a78" font-weight="normal">7</text>
<text x="351.86" y="208.70" font-size="7.6" text-anchor="middle" fill="#b8284a" font-weight="normal">5</text>
<text x="351.86" y="220.50" font-size="7.6" text-anchor="middle" fill="#3a5a78" font-weight="normal">8</text>
<text x="381.33" y="208.70" font-size="7.6" text-anchor="middle" fill="#b8284a" font-weight="normal">5</text>
<text x="381.33" y="220.50" font-size="7.6" text-anchor="middle" fill="#3a5a78" font-weight="normal">8</text>
<text x="410.80" y="208.70" font-size="7.6" text-anchor="middle" fill="#b8284a" font-weight="normal">4</text>
<text x="410.80" y="220.50" font-size="7.6" text-anchor="middle" fill="#3a5a78" font-weight="normal">8</text>
<text x="440.27" y="208.70" font-size="7.6" text-anchor="middle" fill="#b8284a" font-weight="normal">5</text>
<text x="440.27" y="220.50" font-size="7.6" text-anchor="middle" fill="#3a5a78" font-weight="normal">7</text>
<text x="469.74" y="208.70" font-size="7.6" text-anchor="middle" fill="#b8284a" font-weight="normal">4</text>
<text x="469.74" y="220.50" font-size="7.6" text-anchor="middle" fill="#3a5a78" font-weight="normal">6</text>
<text x="499.21" y="208.70" font-size="7.6" text-anchor="middle" fill="#b8284a" font-weight="normal">2</text>
<text x="499.21" y="220.50" font-size="7.6" text-anchor="middle" fill="#3a5a78" font-weight="normal">5</text>
<line x1="220.70" y1="231.20" x2="235.20" y2="231.20" stroke="#b80a30" stroke-width="1.3"/>
<text x="238.90" y="233.60" font-size="6.6" text-anchor="start" fill="#c84464" font-weight="normal" textLength="47.3" lengthAdjust="spacingAndGlyphs">Treatment-naive</text>
<line x1="292.60" y1="231.20" x2="307.40" y2="231.20" stroke="#1c3558" stroke-width="1.4" stroke-dasharray="2.6,3.4"/>
<text x="310.30" y="233.60" font-size="6.7" text-anchor="start" fill="#44709c" font-weight="normal" textLength="73.8" lengthAdjust="spacingAndGlyphs">Eculizumab-experienced</text>
<line x1="140.00" y1="75.80" x2="140.00" y2="87.60" stroke="#c45a74" stroke-width="1"/>
<line x1="137.40" y1="75.80" x2="142.60" y2="75.80" stroke="#b03050" stroke-width="1.1"/>
<line x1="137.40" y1="87.60" x2="142.60" y2="87.60" stroke="#b03050" stroke-width="1.1"/>
<line x1="170.00" y1="74.40" x2="170.00" y2="88.20" stroke="#c45a74" stroke-width="1"/>
<line x1="167.40" y1="74.40" x2="172.60" y2="74.40" stroke="#b03050" stroke-width="1.1"/>
<line x1="167.40" y1="88.20" x2="172.60" y2="88.20" stroke="#b03050" stroke-width="1.1"/>
<line x1="200.00" y1="77.10" x2="200.00" y2="87.50" stroke="#c45a74" stroke-width="1"/>
<line x1="197.40" y1="77.10" x2="202.60" y2="77.10" stroke="#b03050" stroke-width="1.1"/>
<line x1="197.40" y1="87.50" x2="202.60" y2="87.50" stroke="#b03050" stroke-width="1.1"/>
<line x1="230.00" y1="78.40" x2="230.00" y2="86.80" stroke="#c45a74" stroke-width="1"/>
<line x1="227.40" y1="78.40" x2="232.60" y2="78.40" stroke="#b03050" stroke-width="1.1"/>
<line x1="227.40" y1="86.80" x2="232.60" y2="86.80" stroke="#b03050" stroke-width="1.1"/>
<line x1="260.00" y1="75.50" x2="260.00" y2="88.30" stroke="#c45a74" stroke-width="1"/>
<line x1="257.40" y1="75.50" x2="262.60" y2="75.50" stroke="#b03050" stroke-width="1.1"/>
<line x1="257.40" y1="88.30" x2="262.60" y2="88.30" stroke="#b03050" stroke-width="1.1"/>
<line x1="290.00" y1="77.50" x2="290.00" y2="87.70" stroke="#c45a74" stroke-width="1"/>
<line x1="287.40" y1="77.50" x2="292.60" y2="77.50" stroke="#b03050" stroke-width="1.1"/>
<line x1="287.40" y1="87.70" x2="292.60" y2="87.70" stroke="#b03050" stroke-width="1.1"/>
<line x1="320.00" y1="70.30" x2="320.00" y2="91.10" stroke="#c45a74" stroke-width="1"/>
<line x1="317.40" y1="70.30" x2="322.60" y2="70.30" stroke="#b03050" stroke-width="1.1"/>
<line x1="317.40" y1="91.10" x2="322.60" y2="91.10" stroke="#b03050" stroke-width="1.1"/>
<line x1="350.00" y1="67.60" x2="350.00" y2="92.30" stroke="#c45a74" stroke-width="1"/>
<line x1="347.40" y1="67.60" x2="352.60" y2="67.60" stroke="#b03050" stroke-width="1.1"/>
<line x1="347.40" y1="92.30" x2="352.60" y2="92.30" stroke="#b03050" stroke-width="1.1"/>
<line x1="380.00" y1="76.60" x2="380.00" y2="88.00" stroke="#c45a74" stroke-width="1"/>
<line x1="377.40" y1="76.60" x2="382.60" y2="76.60" stroke="#b03050" stroke-width="1.1"/>
<line x1="377.40" y1="88.00" x2="382.60" y2="88.00" stroke="#b03050" stroke-width="1.1"/>
<line x1="410.00" y1="73.40" x2="410.00" y2="90.40" stroke="#c45a74" stroke-width="1"/>
<line x1="407.40" y1="73.40" x2="412.60" y2="73.40" stroke="#b03050" stroke-width="1.1"/>
<line x1="407.40" y1="90.40" x2="412.60" y2="90.40" stroke="#b03050" stroke-width="1.1"/>
<line x1="440.00" y1="78.10" x2="440.00" y2="87.10" stroke="#c45a74" stroke-width="1"/>
<line x1="437.40" y1="78.10" x2="442.60" y2="78.10" stroke="#b03050" stroke-width="1.1"/>
<line x1="437.40" y1="87.10" x2="442.60" y2="87.10" stroke="#b03050" stroke-width="1.1"/>
<line x1="470.00" y1="59.40" x2="470.00" y2="95.50" stroke="#c45a74" stroke-width="1"/>
<line x1="467.40" y1="59.40" x2="472.60" y2="59.40" stroke="#b03050" stroke-width="1.1"/>
<line x1="467.40" y1="95.50" x2="472.60" y2="95.50" stroke="#b03050" stroke-width="1.1"/>
<line x1="500.00" y1="29.40" x2="500.00" y2="135.80" stroke="#c45a74" stroke-width="1"/>
<line x1="497.40" y1="29.40" x2="502.60" y2="29.40" stroke="#b03050" stroke-width="1.1"/>
<line x1="497.40" y1="135.80" x2="502.60" y2="135.80" stroke="#b03050" stroke-width="1.1"/>
<polyline points="110.0,73.25 140.0,81.70 170.0,81.30 200.0,82.30 230.0,82.60 260.0,81.90 290.0,82.60 320.0,80.70 350.0,79.80 380.0,82.30 410.0,81.90 440.0,82.60 470.0,78.30 500.0,82.90" fill="none" stroke="#c10028" stroke-width="1.6" stroke-linejoin="round"/>
<circle cx="140" cy="81.7" r="2.2" fill="#d0103a"/>
<circle cx="170" cy="81.3" r="2.2" fill="#d0103a"/>
<circle cx="200" cy="82.3" r="2.2" fill="#d0103a"/>
<circle cx="230" cy="82.6" r="2.2" fill="#d0103a"/>
<circle cx="260" cy="81.9" r="2.2" fill="#d0103a"/>
<circle cx="290" cy="82.6" r="2.2" fill="#d0103a"/>
<circle cx="320" cy="80.7" r="2.2" fill="#d0103a"/>
<circle cx="350" cy="79.8" r="2.2" fill="#d0103a"/>
<circle cx="380" cy="82.3" r="2.2" fill="#d0103a"/>
<circle cx="410" cy="81.9" r="2.2" fill="#d0103a"/>
<circle cx="440" cy="82.6" r="2.2" fill="#d0103a"/>
<circle cx="470" cy="78.3" r="2.2" fill="#d0103a"/>
<rect x="498" y="80.9" width="4" height="4" fill="#fff" stroke="#c10028" stroke-width="1"/>
<line x1="140.00" y1="66.70" x2="140.00" y2="76.90" stroke="#5a8cab" stroke-width="0.9"/>
<line x1="137.40" y1="66.70" x2="142.60" y2="66.70" stroke="#2a4868" stroke-width="1.1"/>
<line x1="137.40" y1="76.90" x2="142.60" y2="76.90" stroke="#2a4868" stroke-width="1.1"/>
<line x1="170.00" y1="70.60" x2="170.00" y2="76.60" stroke="#5a8cab" stroke-width="0.9"/>
<line x1="167.40" y1="70.60" x2="172.60" y2="70.60" stroke="#2a4868" stroke-width="1.1"/>
<line x1="167.40" y1="76.60" x2="172.60" y2="76.60" stroke="#2a4868" stroke-width="1.1"/>
<line x1="200.00" y1="72.00" x2="200.00" y2="75.60" stroke="#5a8cab" stroke-width="0.9"/>
<line x1="197.40" y1="72.00" x2="202.60" y2="72.00" stroke="#2a4868" stroke-width="1.1"/>
<line x1="197.40" y1="75.60" x2="202.60" y2="75.60" stroke="#2a4868" stroke-width="1.1"/>
<line x1="230.00" y1="72.60" x2="230.00" y2="75.40" stroke="#5a8cab" stroke-width="0.9"/>
<line x1="227.40" y1="72.60" x2="232.60" y2="72.60" stroke="#2a4868" stroke-width="1.1"/>
<line x1="227.40" y1="75.40" x2="232.60" y2="75.40" stroke="#2a4868" stroke-width="1.1"/>
<line x1="260.00" y1="69.30" x2="260.00" y2="77.10" stroke="#5a8cab" stroke-width="0.9"/>
<line x1="257.40" y1="69.30" x2="262.60" y2="69.30" stroke="#2a4868" stroke-width="1.1"/>
<line x1="257.40" y1="77.10" x2="262.60" y2="77.10" stroke="#2a4868" stroke-width="1.1"/>
<line x1="290.00" y1="72.00" x2="290.00" y2="75.60" stroke="#5a8cab" stroke-width="0.9"/>
<line x1="287.40" y1="72.00" x2="292.60" y2="72.00" stroke="#2a4868" stroke-width="1.1"/>
<line x1="287.40" y1="75.60" x2="292.60" y2="75.60" stroke="#2a4868" stroke-width="1.1"/>
<line x1="320.00" y1="66.30" x2="320.00" y2="78.90" stroke="#5a8cab" stroke-width="0.9"/>
<line x1="317.40" y1="66.30" x2="322.60" y2="66.30" stroke="#2a4868" stroke-width="1.1"/>
<line x1="317.40" y1="78.90" x2="322.60" y2="78.90" stroke="#2a4868" stroke-width="1.1"/>
<line x1="350.00" y1="71.20" x2="350.00" y2="75.20" stroke="#5a8cab" stroke-width="0.9"/>
<line x1="347.40" y1="71.20" x2="352.60" y2="71.20" stroke="#2a4868" stroke-width="1.1"/>
<line x1="347.40" y1="75.20" x2="352.60" y2="75.20" stroke="#2a4868" stroke-width="1.1"/>
<line x1="380.00" y1="72.00" x2="380.00" y2="76.80" stroke="#5a8cab" stroke-width="0.9"/>
<line x1="377.40" y1="72.00" x2="382.60" y2="72.00" stroke="#2a4868" stroke-width="1.1"/>
<line x1="377.40" y1="76.80" x2="382.60" y2="76.80" stroke="#2a4868" stroke-width="1.1"/>
<line x1="410.00" y1="72.20" x2="410.00" y2="76.60" stroke="#5a8cab" stroke-width="0.9"/>
<line x1="407.40" y1="72.20" x2="412.60" y2="72.20" stroke="#2a4868" stroke-width="1.1"/>
<line x1="407.40" y1="76.60" x2="412.60" y2="76.60" stroke="#2a4868" stroke-width="1.1"/>
<line x1="440.00" y1="72.60" x2="440.00" y2="78.60" stroke="#5a8cab" stroke-width="0.9"/>
<line x1="437.40" y1="72.60" x2="442.60" y2="72.60" stroke="#2a4868" stroke-width="1.1"/>
<line x1="437.40" y1="78.60" x2="442.60" y2="78.60" stroke="#2a4868" stroke-width="1.1"/>
<line x1="470.00" y1="70.40" x2="470.00" y2="78.20" stroke="#5a8cab" stroke-width="0.9"/>
<line x1="467.40" y1="70.40" x2="472.60" y2="70.40" stroke="#2a4868" stroke-width="1.1"/>
<line x1="467.40" y1="78.20" x2="472.60" y2="78.20" stroke="#2a4868" stroke-width="1.1"/>
<line x1="500.00" y1="41.90" x2="500.00" y2="84.70" stroke="#5a8cab" stroke-width="0.9"/>
<line x1="497.40" y1="41.90" x2="502.60" y2="41.90" stroke="#2a4868" stroke-width="1.1"/>
<line x1="497.40" y1="84.70" x2="502.60" y2="84.70" stroke="#2a4868" stroke-width="1.1"/>
<polyline points="110.0,73.25 140.0,71.80 170.0,73.60 200.0,73.80 230.0,74.00 260.0,73.20 290.0,73.80 320.0,72.60 350.0,73.20 380.0,74.40 410.0,74.40 440.0,75.60 470.0,74.30 500.0,63.30" fill="none" stroke="#1c3558" stroke-width="1.6" stroke-dasharray="3,3"/>
<circle cx="140" cy="71.8" r="1.7" fill="#6f9fc4" stroke="#1f4a72" stroke-width="0.9"/>
<circle cx="170" cy="73.6" r="1.7" fill="#6f9fc4" stroke="#1f4a72" stroke-width="0.9"/>
<circle cx="200" cy="73.8" r="1.7" fill="#6f9fc4" stroke="#1f4a72" stroke-width="0.9"/>
<circle cx="230" cy="74.0" r="1.7" fill="#6f9fc4" stroke="#1f4a72" stroke-width="0.9"/>
<circle cx="260" cy="73.2" r="1.7" fill="#6f9fc4" stroke="#1f4a72" stroke-width="0.9"/>
<circle cx="290" cy="73.8" r="1.7" fill="#6f9fc4" stroke="#1f4a72" stroke-width="0.9"/>
<circle cx="320" cy="72.6" r="1.7" fill="#6f9fc4" stroke="#1f4a72" stroke-width="0.9"/>
<circle cx="350" cy="73.2" r="1.7" fill="#6f9fc4" stroke="#1f4a72" stroke-width="0.9"/>
<circle cx="380" cy="74.4" r="1.7" fill="#6f9fc4" stroke="#1f4a72" stroke-width="0.9"/>
<circle cx="410" cy="74.4" r="1.7" fill="#6f9fc4" stroke="#1f4a72" stroke-width="0.9"/>
<circle cx="440" cy="75.6" r="1.7" fill="#6f9fc4" stroke="#1f4a72" stroke-width="0.9"/>
<circle cx="470" cy="74.3" r="1.7" fill="#6f9fc4" stroke="#1f4a72" stroke-width="0.9"/>
<circle cx="500" cy="63.3" r="1.7" fill="#6f9fc4" stroke="#1f4a72" stroke-width="0.9"/>
<rect x="108.1" y="71.35" width="3.8" height="3.8" fill="#fff" stroke="#2a2a48" stroke-width="1.1"/>
<text x="6.80" y="259.80" font-size="10.8" text-anchor="start" fill="#000" font-weight="bold">B</text>
<line x1="91.50" y1="251.20" x2="91.50" y2="434.00" stroke="#3a3a3a" stroke-width="1.2"/>
<line x1="90.90" y1="433.50" x2="513.30" y2="433.50" stroke="#3a3a3a" stroke-width="1.2"/>
<line x1="88.50" y1="433.50" x2="91.50" y2="433.50" stroke="#3a3a3a" stroke-width="1"/>
<text x="86.20" y="435.70" font-size="7.6" text-anchor="end" fill="#1a1a1a" font-weight="normal" letter-spacing="0.25">0</text>
<line x1="88.50" y1="415.60" x2="91.50" y2="415.60" stroke="#3a3a3a" stroke-width="1"/>
<text x="86.20" y="417.80" font-size="7.6" text-anchor="end" fill="#1a1a1a" font-weight="normal" letter-spacing="0.25">10</text>
<line x1="88.50" y1="397.70" x2="91.50" y2="397.70" stroke="#3a3a3a" stroke-width="1"/>
<text x="86.20" y="399.90" font-size="7.6" text-anchor="end" fill="#1a1a1a" font-weight="normal" letter-spacing="0.25">20</text>
<line x1="88.50" y1="379.80" x2="91.50" y2="379.80" stroke="#3a3a3a" stroke-width="1"/>
<text x="86.20" y="382.00" font-size="7.6" text-anchor="end" fill="#1a1a1a" font-weight="normal" letter-spacing="0.25">30</text>
<line x1="88.50" y1="361.90" x2="91.50" y2="361.90" stroke="#3a3a3a" stroke-width="1"/>
<text x="86.20" y="364.10" font-size="7.6" text-anchor="end" fill="#1a1a1a" font-weight="normal" letter-spacing="0.25">40</text>
<line x1="88.50" y1="344.00" x2="91.50" y2="344.00" stroke="#3a3a3a" stroke-width="1"/>
<text x="86.20" y="346.20" font-size="7.6" text-anchor="end" fill="#1a1a1a" font-weight="normal" letter-spacing="0.25">50</text>
<line x1="88.50" y1="326.10" x2="91.50" y2="326.10" stroke="#3a3a3a" stroke-width="1"/>
<text x="86.20" y="328.30" font-size="7.6" text-anchor="end" fill="#1a1a1a" font-weight="normal" letter-spacing="0.25">60</text>
<line x1="88.50" y1="308.20" x2="91.50" y2="308.20" stroke="#3a3a3a" stroke-width="1"/>
<text x="86.20" y="310.40" font-size="7.6" text-anchor="end" fill="#1a1a1a" font-weight="normal" letter-spacing="0.25">70</text>
<line x1="88.50" y1="290.30" x2="91.50" y2="290.30" stroke="#3a3a3a" stroke-width="1"/>
<text x="86.20" y="292.50" font-size="7.6" text-anchor="end" fill="#1a1a1a" font-weight="normal" letter-spacing="0.25">80</text>
<line x1="88.50" y1="272.40" x2="91.50" y2="272.40" stroke="#3a3a3a" stroke-width="1"/>
<text x="86.20" y="274.60" font-size="7.6" text-anchor="end" fill="#1a1a1a" font-weight="normal" letter-spacing="0.25">90</text>
<line x1="88.50" y1="254.50" x2="91.50" y2="254.50" stroke="#3a3a3a" stroke-width="1"/>
<text x="86.20" y="256.70" font-size="7.6" text-anchor="end" fill="#1a1a1a" font-weight="normal" letter-spacing="0.25">100</text>
<text transform="translate(66.9,342.3) rotate(-90)" font-size="9.4" text-anchor="middle" fill="#2a2a2a" textLength="117" lengthAdjust="spacingAndGlyphs">Patients achieving LDH normalization (%)</text>
<rect x="110.80" y="365.48" width="7.35" height="68.02" fill="#0b4d82"/>
<rect x="132.39" y="361.90" width="7.35" height="71.60" fill="#c10028"/>
<rect x="139.74" y="365.48" width="7.35" height="68.02" fill="#0b4d82"/>
<rect x="161.33" y="361.90" width="7.35" height="71.60" fill="#c10028"/>
<rect x="168.68" y="344.00" width="7.35" height="89.50" fill="#0b4d82"/>
<rect x="190.27" y="397.70" width="7.35" height="35.80" fill="#c10028"/>
<rect x="197.62" y="331.47" width="7.35" height="102.03" fill="#0b4d82"/>
<rect x="219.21" y="374.43" width="7.35" height="59.07" fill="#c10028"/>
<rect x="226.56" y="320.73" width="7.35" height="112.77" fill="#0b4d82"/>
<rect x="248.15" y="361.90" width="7.35" height="71.60" fill="#c10028"/>
<rect x="255.50" y="344.00" width="7.35" height="89.50" fill="#0b4d82"/>
<rect x="277.09" y="361.90" width="7.35" height="71.60" fill="#c10028"/>
<rect x="284.44" y="344.00" width="7.35" height="89.50" fill="#0b4d82"/>
<rect x="306.03" y="326.10" width="7.35" height="107.40" fill="#c10028"/>
<rect x="313.38" y="331.47" width="7.35" height="102.03" fill="#0b4d82"/>
<rect x="334.97" y="326.10" width="7.35" height="107.40" fill="#c10028"/>
<rect x="342.32" y="344.00" width="7.35" height="89.50" fill="#0b4d82"/>
<rect x="363.91" y="326.10" width="7.35" height="107.40" fill="#c10028"/>
<rect x="371.26" y="320.73" width="7.35" height="112.77" fill="#0b4d82"/>
<rect x="392.85" y="344.00" width="7.35" height="89.50" fill="#c10028"/>
<rect x="400.20" y="320.73" width="7.35" height="112.77" fill="#0b4d82"/>
<rect x="421.79" y="397.70" width="7.35" height="35.80" fill="#c10028"/>
<rect x="429.14" y="306.41" width="7.35" height="127.09" fill="#0b4d82"/>
<rect x="450.73" y="388.75" width="7.35" height="44.75" fill="#c10028"/>
<rect x="458.08" y="313.57" width="7.35" height="119.93" fill="#0b4d82"/>
<rect x="487.02" y="326.10" width="7.35" height="107.40" fill="#0b4d82"/>
<text x="114.47" y="363.88" font-size="7.7" text-anchor="middle" fill="#2a2a2a" font-weight="normal">38</text>
<text x="136.06" y="360.30" font-size="7.7" text-anchor="middle" fill="#2a2a2a" font-weight="normal">40</text>
<text x="143.42" y="363.88" font-size="7.7" text-anchor="middle" fill="#2a2a2a" font-weight="normal">38</text>
<text x="165.00" y="360.30" font-size="7.7" text-anchor="middle" fill="#2a2a2a" font-weight="normal">40</text>
<text x="172.36" y="342.40" font-size="7.7" text-anchor="middle" fill="#2a2a2a" font-weight="normal">50</text>
<text x="193.94" y="396.10" font-size="7.7" text-anchor="middle" fill="#2a2a2a" font-weight="normal">20</text>
<text x="201.30" y="329.87" font-size="7.7" text-anchor="middle" fill="#2a2a2a" font-weight="normal">57</text>
<text x="222.88" y="372.83" font-size="7.7" text-anchor="middle" fill="#2a2a2a" font-weight="normal">33</text>
<text x="230.24" y="319.13" font-size="7.7" text-anchor="middle" fill="#2a2a2a" font-weight="normal">63</text>
<text x="251.82" y="360.30" font-size="7.7" text-anchor="middle" fill="#2a2a2a" font-weight="normal">40</text>
<text x="259.18" y="342.40" font-size="7.7" text-anchor="middle" fill="#2a2a2a" font-weight="normal">50</text>
<text x="280.76" y="360.30" font-size="7.7" text-anchor="middle" fill="#2a2a2a" font-weight="normal">40</text>
<text x="288.12" y="342.40" font-size="7.7" text-anchor="middle" fill="#2a2a2a" font-weight="normal">50</text>
<text x="309.70" y="324.50" font-size="7.7" text-anchor="middle" fill="#2a2a2a" font-weight="normal">60</text>
<text x="317.06" y="329.87" font-size="7.7" text-anchor="middle" fill="#2a2a2a" font-weight="normal">57</text>
<text x="338.64" y="324.50" font-size="7.7" text-anchor="middle" fill="#2a2a2a" font-weight="normal">60</text>
<text x="346.00" y="342.40" font-size="7.7" text-anchor="middle" fill="#2a2a2a" font-weight="normal">50</text>
<text x="367.59" y="324.50" font-size="7.7" text-anchor="middle" fill="#2a2a2a" font-weight="normal">60</text>
<text x="374.94" y="319.13" font-size="7.7" text-anchor="middle" fill="#2a2a2a" font-weight="normal">63</text>
<text x="396.53" y="342.40" font-size="7.7" text-anchor="middle" fill="#2a2a2a" font-weight="normal">50</text>
<text x="403.88" y="319.13" font-size="7.7" text-anchor="middle" fill="#2a2a2a" font-weight="normal">63</text>
<text x="425.47" y="396.10" font-size="7.7" text-anchor="middle" fill="#2a2a2a" font-weight="normal">20</text>
<text x="432.82" y="304.81" font-size="7.7" text-anchor="middle" fill="#2a2a2a" font-weight="normal">71</text>
<text x="454.41" y="387.15" font-size="7.7" text-anchor="middle" fill="#2a2a2a" font-weight="normal">25</text>
<text x="461.76" y="311.97" font-size="7.7" text-anchor="middle" fill="#2a2a2a" font-weight="normal">67</text>
<text x="490.70" y="324.50" font-size="7.7" text-anchor="middle" fill="#2a2a2a" font-weight="normal">60</text>
<line x1="90.90" y1="433.50" x2="513.30" y2="433.50" stroke="#3a3a3a" stroke-width="1.2"/>
<line x1="110.80" y1="433.50" x2="110.80" y2="436.50" stroke="#3a3a3a" stroke-width="1"/>
<text x="110.80" y="446.00" font-size="7.4" text-anchor="middle" fill="#1a1a1a" font-weight="normal" letter-spacing="0.2">1</text>
<line x1="139.74" y1="433.50" x2="139.74" y2="436.50" stroke="#3a3a3a" stroke-width="1"/>
<text x="139.74" y="446.00" font-size="7.4" text-anchor="middle" fill="#1a1a1a" font-weight="normal" letter-spacing="0.2">15</text>
<line x1="168.68" y1="433.50" x2="168.68" y2="436.50" stroke="#3a3a3a" stroke-width="1"/>
<text x="168.68" y="446.00" font-size="7.4" text-anchor="middle" fill="#1a1a1a" font-weight="normal" letter-spacing="0.2">43</text>
<line x1="197.62" y1="433.50" x2="197.62" y2="436.50" stroke="#3a3a3a" stroke-width="1"/>
<text x="197.62" y="446.00" font-size="7.4" text-anchor="middle" fill="#1a1a1a" font-weight="normal" letter-spacing="0.2">71</text>
<line x1="226.56" y1="433.50" x2="226.56" y2="436.50" stroke="#3a3a3a" stroke-width="1"/>
<text x="226.56" y="446.00" font-size="7.4" text-anchor="middle" fill="#1a1a1a" font-weight="normal" letter-spacing="0.2">99</text>
<line x1="255.50" y1="433.50" x2="255.50" y2="436.50" stroke="#3a3a3a" stroke-width="1"/>
<text x="255.50" y="446.00" font-size="7.4" text-anchor="middle" fill="#1a1a1a" font-weight="normal" letter-spacing="0.2">127</text>
<line x1="284.44" y1="433.50" x2="284.44" y2="436.50" stroke="#3a3a3a" stroke-width="1"/>
<text x="284.44" y="446.00" font-size="7.4" text-anchor="middle" fill="#1a1a1a" font-weight="normal" letter-spacing="0.2">155</text>
<line x1="313.38" y1="433.50" x2="313.38" y2="436.50" stroke="#3a3a3a" stroke-width="1"/>
<text x="313.38" y="446.00" font-size="7.4" text-anchor="middle" fill="#1a1a1a" font-weight="normal" letter-spacing="0.2">183</text>
<line x1="342.32" y1="433.50" x2="342.32" y2="436.50" stroke="#3a3a3a" stroke-width="1"/>
<text x="342.32" y="446.00" font-size="7.4" text-anchor="middle" fill="#1a1a1a" font-weight="normal" letter-spacing="0.2">239</text>
<line x1="371.26" y1="433.50" x2="371.26" y2="436.50" stroke="#3a3a3a" stroke-width="1"/>
<text x="371.26" y="446.00" font-size="7.4" text-anchor="middle" fill="#1a1a1a" font-weight="normal" letter-spacing="0.2">295</text>
<line x1="400.20" y1="433.50" x2="400.20" y2="436.50" stroke="#3a3a3a" stroke-width="1"/>
<text x="400.20" y="446.00" font-size="7.4" text-anchor="middle" fill="#1a1a1a" font-weight="normal" letter-spacing="0.2">351</text>
<line x1="429.14" y1="433.50" x2="429.14" y2="436.50" stroke="#3a3a3a" stroke-width="1"/>
<text x="429.14" y="446.00" font-size="7.4" text-anchor="middle" fill="#1a1a1a" font-weight="normal" letter-spacing="0.2">575</text>
<line x1="458.08" y1="433.50" x2="458.08" y2="436.50" stroke="#3a3a3a" stroke-width="1"/>
<text x="458.08" y="446.00" font-size="7.4" text-anchor="middle" fill="#1a1a1a" font-weight="normal" letter-spacing="0.2">743</text>
<line x1="487.02" y1="433.50" x2="487.02" y2="436.50" stroke="#3a3a3a" stroke-width="1"/>
<text x="487.02" y="446.00" font-size="7.4" text-anchor="middle" fill="#1a1a1a" font-weight="normal" letter-spacing="0.2">911</text>
<text x="301.40" y="458.50" font-size="8.2" text-anchor="middle" fill="#1a1a1a" font-weight="normal" stroke="#1a1a1a" stroke-width="0.05" textLength="31.2" lengthAdjust="spacingAndGlyphs">Visit (days)</text>
<text x="86.20" y="471.30" font-size="7.8" text-anchor="end" fill="#b8284a" font-weight="normal" textLength="51.4" lengthAdjust="spacingAndGlyphs">Treatment-naive</text>
<text x="86.20" y="482.50" font-size="7.8" text-anchor="end" fill="#3a5a78" font-weight="normal" textLength="79.2" lengthAdjust="spacingAndGlyphs">Eculizumab-experienced</text>
<text x="110.80" y="471.30" font-size="7.6" text-anchor="middle" fill="#b8284a" font-weight="normal">5</text>
<text x="110.80" y="482.50" font-size="7.6" text-anchor="middle" fill="#3a5a78" font-weight="normal">8</text>
<text x="139.74" y="471.30" font-size="7.6" text-anchor="middle" fill="#b8284a" font-weight="normal">5</text>
<text x="139.74" y="482.50" font-size="7.6" text-anchor="middle" fill="#3a5a78" font-weight="normal">8</text>
<text x="168.68" y="471.30" font-size="7.6" text-anchor="middle" fill="#b8284a" font-weight="normal">5</text>
<text x="168.68" y="482.50" font-size="7.6" text-anchor="middle" fill="#3a5a78" font-weight="normal">8</text>
<text x="197.62" y="471.30" font-size="7.6" text-anchor="middle" fill="#b8284a" font-weight="normal">5</text>
<text x="197.62" y="482.50" font-size="7.6" text-anchor="middle" fill="#3a5a78" font-weight="normal">7</text>
<text x="226.56" y="471.30" font-size="7.6" text-anchor="middle" fill="#b8284a" font-weight="normal">3</text>
<text x="226.56" y="482.50" font-size="7.6" text-anchor="middle" fill="#3a5a78" font-weight="normal">8</text>
<text x="255.50" y="471.30" font-size="7.6" text-anchor="middle" fill="#b8284a" font-weight="normal">5</text>
<text x="255.50" y="482.50" font-size="7.6" text-anchor="middle" fill="#3a5a78" font-weight="normal">8</text>
<text x="284.44" y="471.30" font-size="7.6" text-anchor="middle" fill="#b8284a" font-weight="normal">5</text>
<text x="284.44" y="482.50" font-size="7.6" text-anchor="middle" fill="#3a5a78" font-weight="normal">8</text>
<text x="313.38" y="471.30" font-size="7.6" text-anchor="middle" fill="#b8284a" font-weight="normal">5</text>
<text x="313.38" y="482.50" font-size="7.6" text-anchor="middle" fill="#3a5a78" font-weight="normal">7</text>
<text x="342.32" y="471.30" font-size="7.6" text-anchor="middle" fill="#b8284a" font-weight="normal">5</text>
<text x="342.32" y="482.50" font-size="7.6" text-anchor="middle" fill="#3a5a78" font-weight="normal">8</text>
<text x="371.26" y="471.30" font-size="7.6" text-anchor="middle" fill="#b8284a" font-weight="normal">5</text>
<text x="371.26" y="482.50" font-size="7.6" text-anchor="middle" fill="#3a5a78" font-weight="normal">8</text>
<text x="400.20" y="471.30" font-size="7.6" text-anchor="middle" fill="#b8284a" font-weight="normal">4</text>
<text x="400.20" y="482.50" font-size="7.6" text-anchor="middle" fill="#3a5a78" font-weight="normal">8</text>
<text x="429.14" y="471.30" font-size="7.6" text-anchor="middle" fill="#b8284a" font-weight="normal">5</text>
<text x="429.14" y="482.50" font-size="7.6" text-anchor="middle" fill="#3a5a78" font-weight="normal">7</text>
<text x="458.08" y="471.30" font-size="7.6" text-anchor="middle" fill="#b8284a" font-weight="normal">4</text>
<text x="458.08" y="482.50" font-size="7.6" text-anchor="middle" fill="#3a5a78" font-weight="normal">6</text>
<text x="487.02" y="471.30" font-size="7.6" text-anchor="middle" fill="#b8284a" font-weight="normal">2</text>
<text x="487.02" y="482.50" font-size="7.6" text-anchor="middle" fill="#3a5a78" font-weight="normal">5</text>
<rect x="229.6" y="490.4" width="5.6" height="5.4" fill="#c10028"/>
<text x="238.70" y="495.60" font-size="6.6" text-anchor="start" fill="#c84464" font-weight="normal" textLength="47.4" lengthAdjust="spacingAndGlyphs">Treatment-naive</text>
<rect x="292.5" y="490.4" width="5.6" height="5.4" fill="#0b4d82"/>
<text x="301.10" y="495.60" font-size="6.7" text-anchor="start" fill="#44709c" font-weight="normal" textLength="74.3" lengthAdjust="spacingAndGlyphs">Eculizumab-experienced</text>
</g>
<rect x="0" y="0" width="520" height="1.1" fill="#606060"/>
<rect x="0" y="0" width="1.1" height="504" fill="#6a6a6a"/>
<rect x="518.9" y="0" width="1.1" height="504" fill="#808080"/>
<rect x="0" y="502.9" width="520" height="1.1" fill="#5a5a5a"/>
</svg></div>
</body></html>
